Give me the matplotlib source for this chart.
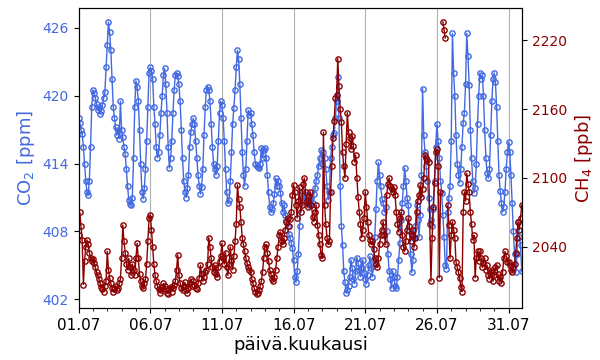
import matplotlib
matplotlib.use('Agg')
import matplotlib.pyplot as plt
import matplotlib.dates as mdates
import numpy as np
import pandas as pd

nan = np.nan

# CO2 [ppm], 2 h values, one row per day (01.07.-31.07.)
co2 = [
    [418.0, 417.6, 417.0, 416.6, 415.5, 414.0, 412.5, 411.5, 411.2, 412.5, 415.5, 419.0],
    [420.5, 420.2, 419.8, 419.3, 418.7, 419.0, 418.4, 418.6, 419.2, 419.8, 420.3, 422.5],
    [424.5, 426.5, 425.6, 424.0, 421.5, 419.0, 418.0, 417.2, 416.5, 417.0, 416.2, 419.5],
    [417.0, 416.3, 415.5, 414.8, 413.5, 412.0, 410.8, 410.4, 410.3, 411.0, 414.5, 419.0],
    [421.3, 420.8, 419.5, 417.0, 414.0, 411.5, 410.9, 411.8, 413.5, 416.0, 419.0, 422.0],
    [422.5, 422.2, 421.5, 419.0, 417.5, 415.5, 414.5, 415.0, 416.5, 418.5, 420.0, 421.8],
    [422.4, 421.0, 418.5, 415.5, 413.6, 414.5, 416.0, 418.5, 420.5, 421.8, 422.0, 421.7],
    [421.0, 419.5, 417.0, 414.5, 412.5, 411.5, 411.0, 411.8, 413.0, 415.5, 416.8, 417.5],
    [418.0, 417.5, 416.0, 414.5, 413.0, 412.0, 411.3, 411.9, 413.5, 416.5, 419.0, 420.5],
    [420.8, 420.5, 419.5, 417.5, 415.5, 414.0, 413.5, 413.0, 413.8, 416.0, 418.5, 419.5],
    [419.2, 418.0, 416.0, 413.5, 411.5, 410.5, 410.8, 412.5, 415.0, 417.5, 418.9, 420.5],
    [422.5, 424.0, 423.2, 421.0, 418.0, 415.0, 413.0, 412.0, 413.5, 416.0, 418.7, 418.3],
    [418.5, 417.5, 416.5, 415.0, 414.0, 413.8, 413.7, 413.6, 414.0, 415.4, 414.5, 415.2],
    [415.4, 414.5, 413.0, 411.5, 410.2, 409.7, 410.0, 410.5, 411.3, 412.7, 412.0, 412.5],
    [412.0, 411.4, 410.5, 409.7, 410.3, 409.5, 409.0, 408.5, 407.8, 407.4, 407.0, 406.5],
    [405.5, 404.0, 403.5, 404.5, 406.0, 408.5, 410.5, 411.6, 411.0, 410.7, 411.2, 410.8],
    [410.5, 410.3, 410.6, 411.0, 410.5, 411.3, 411.8, 412.5, 413.0, 413.8, 414.5, 415.2],
    [414.0, 415.0, 414.5, 413.5, 412.0, 410.8, 411.5, 414.5, 415.5, 416.5, 416.7, 418.0],
    [419.5, 421.6, 418.0, 412.0, 408.5, 406.8, 404.5, 403.5, 402.6, 402.8, 403.2, 404.0],
    [405.5, 404.8, 403.8, 403.4, 404.5, 405.7, 405.2, 404.6, 404.0, 404.8, 405.5, 404.3],
    [403.8, 403.4, 404.2, 405.0, 405.8, 404.8, 404.0, 405.5, 407.5, 410.0, 412.5, 414.1],
    [413.0, 412.0, 410.9, 410.5, 409.7, 410.2, 408.0, 406.0, 404.5, 403.8, 403.0, 404.5],
    [404.0, 403.2, 403.0, 404.0, 405.5, 407.0, 409.0, 410.5, 412.0, 413.6, 412.5, 411.0],
    [410.3, 408.0, 406.0, 404.4, 405.5, 407.4, 408.5, 410.3, 409.0, 407.5, 409.5, 413.0],
    [420.6, 416.5, 415.0, 413.8, 412.5, 411.0, 410.0, 409.0, 408.5, 410.0, 412.5, 415.5],
    [417.5, 416.0, 414.5, 412.5, 411.4, 409.5, 407.5, 405.0, 404.7, 409.7, 411.0, 412.0],
    [416.0, 425.5, 422.0, 420.0, 416.5, 414.0, 413.0, 412.3, 413.5, 415.5, 417.6, 418.5],
    [421.0, 425.5, 423.5, 420.9, 417.0, 414.5, 412.5, 411.4, 411.8, 414.0, 417.5, 420.0],
    [422.0, 421.5, 421.8, 420.0, 417.0, 414.5, 413.2, 412.7, 413.5, 416.5, 419.5, 421.5],
    [422.0, 421.2, 419.0, 416.0, 413.0, 411.6, 410.5, 409.7, 410.2, 411.5, 413.5, 415.0],
    [415.9, 415.0, 413.0, 410.5, 408.0, 406.0, 404.4, 406.0, 408.8, 407.5, 406.8, 404.5],
]

# CH4 [ppb], same times (nan = missing)
ch4 = [
    [2050, 2070, 2058, 2046, 2007, 2028, 2040, 2046, 2042, 2035, 2030, 2028],
    [2029, 2026, 2022, 2018, 2015, 2012, 2008, 2005, 2003, 2001, 2006, 2010],
    [2036, 2020, 2013, 2008, 2004, 2001, 2003, 2006, 2002, 2004, 2008, 2012],
    [2030, 2059, 2045, 2035, 2025, 2020, 2030, 2022, 2015, 2025, 2020, 2015],
    [2030, 2043, 2030, 2016, 2010, 2006, 2004, 2008, 2012, 2025, 2045, 2065],
    [2068, 2055, 2040, 2025, 2015, 2010, 2006, 2003, 2000, 2002, 2005, 2008],
    [2006, 2003, 2000, 1999, 2003, 2005, 2001, 2004, 2007, 2010, 2020, 2033],
    [2015, 2008, 2004, 2002, 2006, 2009, 2002, 2000, 2004, 2008, 2012, 2006],
    [2010, 2007, 2004, 2003, 2008, 2013, 2024, 2016, 2010, 2014, 2018, 2020],
    [2025, 2048, 2040, 2030, 2022, 2018, 2024, 2016, 2014, 2022, 2028, 2032],
    [2043, 2030, 2025, 2035, 2022, 2015, 2025, 2040, 2028, 2020, 2032, 2045],
    [2060, 2094, 2082, 2075, 2062, 2048, 2042, 2036, 2030, 2026, 2022, 2020],
    [2018, 2012, 2008, 2004, 2001, 1999, 2000, 2002, 2006, 2010, 2018, 2030],
    [2040, 2042, 2035, 2028, 2020, 2016, 2012, 2010, 2014, 2020, 2030, 2040],
    [2050, 2053, 2045, 2042, 2048, 2055, 2062, 2065, 2058, 2064, 2070, 2085],
    [2094, 2088, 2076, 2065, 2080, 2092, 2070, 2076, 2095, 2100, 2088, 2080],
    [2075, 2084, 2088, 2076, 2066, 2062, 2070, 2076, 2059, 2050, 2042, 2033],
    [2030, 2140, 2076, 2060, 2048, 2042, 2045, 2088, 2110, 2135, 2150, 2170],
    [2172, 2204, 2180, 2160, 2149, 2123, 2110, 2100, 2130, 2157, 2140, 2135],
    [2125, 2137, 2128, 2114, 2120, 2100, 2083, 2070, 2060, 2048, 2055, 2065],
    [2088, 2075, 2062, 2050, 2046, 2042, 2045, 2038, 2030, 2025, 2022, 2030],
    [2042, 2050, 2055, 2062, 2050, 2042, 2085, 2095, 2100, 2093, 2090, 2088],
    [2092, 2085, 2070, 2060, 2053, 2065, 2070, 2050, 2040, 2036, 2045, 2055],
    [2065, 2058, 2045, 2050, 2055, 2040, 2048, 2070, 2080, 2085, 2094, 2083],
    [2090, 2100, 2120, 2117, 2116, 2114, 2060, 2010, 2048, 2075, 2096, 2123],
    [2125, 2110, 2013, 2088, nan, 2236, 2229, 2222, nan, 2076, 2059, 2030],
    [2050, 2062, 2055, 2048, 2027, 2022, 2018, 2013, 2005, 2001, 2070, 2088],
    [2080, 2104, 2095, 2088, 2070, 2060, 2046, 2050, 2013, 2030, 2036, 2028],
    [2036, 2030, 2022, 2026, 2030, 2020, 2024, 2015, 2012, 2018, 2020, 2010],
    [2015, 2022, 2024, 2016, 2010, 2014, 2008, 2018, 2030, 2036, 2032, 2027],
    [2027, 2024, 2020, 2018, 2022, 2025, 2035, 2048, 2062, 2055, 2065, 2076],
]

co2_vals = np.array(co2, dtype=float).ravel()
ch4_vals = np.array(ch4, dtype=float).ravel()
times = pd.date_range('2019-07-01 00:00', periods=len(co2_vals), freq='2h')

co2_color = 'royalblue'
ch4_color = 'darkred'

fig = plt.figure(figsize=(6, 3.6), dpi=100)
ax = fig.add_axes([0.131, 0.144, 0.7395, 0.833])

ax.plot(times, co2_vals, '-o', color=co2_color, mfc='none', ms=3.8, lw=1, mew=1)
ax.set_ylim(401.23, 427.71)
ax.set_yticks([402, 408, 414, 420, 426])
ax.tick_params(axis='y', labelcolor=co2_color, labelsize=10)
ax.set_ylabel('CO$_2$ [ppm]', color=co2_color, fontsize=13)

ax.set_xlim(pd.Timestamp('2019-07-01 00:00'), pd.Timestamp('2019-07-31 23:00'))
ax.xaxis.set_major_locator(mdates.DayLocator(bymonthday=[1, 6, 11, 16, 21, 26, 31]))
ax.xaxis.set_minor_locator(mdates.DayLocator())
ax.xaxis.set_major_formatter(mdates.DateFormatter('%d.%m'))
ax.tick_params(axis='x', labelsize=11)
ax.set_xlabel('päivä.kuukausi', fontsize=13, labelpad=2)
ax.grid(axis='x', which='major', color='#b0b0b0', lw=0.8)

ax2 = ax.twinx()
ax2.plot(times, ch4_vals, '-o', color=ch4_color, mfc='none', ms=3.8, lw=1, mew=1)
ax2.set_ylim(1986.5, 2247.9)
ax2.set_yticks([2040, 2100, 2160, 2220])
ax2.tick_params(axis='y', labelcolor=ch4_color, labelsize=10)
ax2.set_ylabel('CH$_4$ [ppb]', color=ch4_color, fontsize=13)

fig.savefig('out.png', dpi=100)
